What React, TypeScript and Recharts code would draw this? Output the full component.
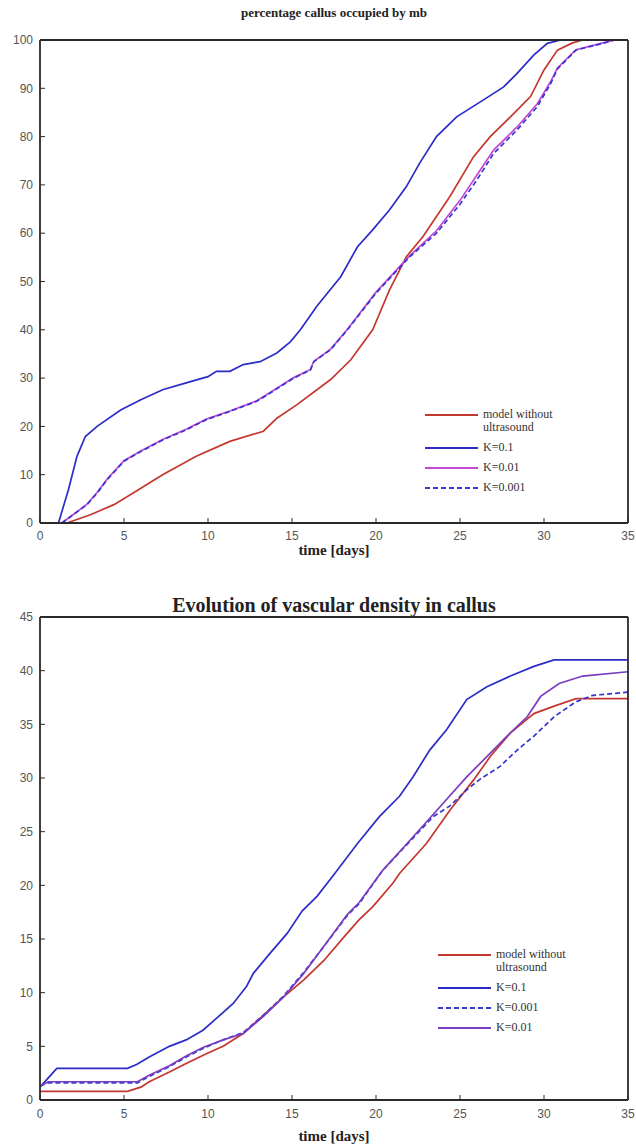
import React from 'react'
import { LineChart, Line, XAxis, YAxis, Legend } from 'recharts'

type Pair = [number, number]

const dayTicks = [0, 5, 10, 15, 20, 25, 30, 35]
const mbTicks = [0, 10, 20, 30, 40, 50, 60, 70, 80, 90, 100]
const vdTicks = [0, 5, 10, 15, 20, 25, 30, 35, 40, 45]

// percentage callus occupied by mb  [day, %]
const mbNoUltrasound: Pair[] = [
  [1.6, 0], [3.0, 1.7], [4.4, 3.8], [5.4, 5.9], [7.3, 10], [9.3, 13.8], [11.3, 16.9], [13.3, 19],
  [14.1, 21.7], [15.3, 24.5], [17.3, 29.7], [18.5, 33.8], [19.8, 40], [20.8, 48.2], [21.8, 55.1],
  [22.8, 59.3], [24.4, 67.6], [25.8, 75.8], [26.8, 80], [28, 84.1], [29.2, 88.3], [30, 93.8],
  [30.8, 97.9], [31.7, 99.4], [32.3, 100], [35, 100],
]
const mbK01: Pair[] = [
  [1.1, 0], [1.7, 7], [2.2, 13.8], [2.7, 17.9], [3.4, 20], [4.8, 23.4], [6, 25.5], [7.3, 27.6],
  [8.7, 29], [10, 30.3], [10.5, 31.4], [11.3, 31.4], [12.1, 32.8], [13.1, 33.4], [14.1, 35.2],
  [14.9, 37.5], [15.5, 40], [16.5, 45], [17.9, 51], [18.9, 57.2], [19.8, 60.7], [20.8, 64.8],
  [21.8, 69.6], [22.6, 74.5], [23.6, 80], [24.8, 84.1], [26.4, 87.6], [27.6, 90.3], [28.4, 93.1],
  [29.4, 96.9], [30.2, 99.3], [31, 100], [35, 100],
]
const mbK001: Pair[] = [
  [1.3, 0], [2.8, 3.9], [3.4, 6.3], [4, 9.1], [5, 12.9], [6, 14.9], [7.3, 17.3], [8.7, 19.4],
  [9.9, 21.5], [11.3, 23.2], [12.9, 25.3], [13.7, 27], [15.1, 30.1], [16.1, 31.8], [16.3, 33.5],
  [17.3, 36], [18.3, 40.1], [20, 47.8], [22, 55.3], [23.6, 60.5], [25, 66.8], [26, 72], [27, 77.2],
  [28.4, 82], [29.6, 86.8], [30.4, 91.4], [30.8, 94.2], [31.9, 98], [33.5, 99.4], [34.2, 100], [35, 100],
]
const mbK0001: Pair[] = [
  [1.3, 0], [2.8, 3.8], [3.4, 6.2], [4, 9], [5, 12.8], [6, 14.8], [7.3, 17.2], [8.7, 19.3],
  [9.9, 21.4], [11.3, 23.1], [12.9, 25.2], [13.7, 26.9], [15.1, 30], [16.1, 31.7], [16.3, 33.4],
  [17.3, 35.9], [18.3, 40], [20, 47.6], [22, 55.1], [23.6, 60], [25, 66], [26, 71], [27, 76.5],
  [28.4, 81.4], [29.6, 86.2], [30.4, 91], [30.8, 94], [31.9, 97.9], [33.5, 99.3], [34.2, 100], [35, 100],
]

// vascular density in callus  [day, density]
const vdNoUltrasound: Pair[] = [
  [0, 0.8], [5.2, 0.8], [6, 1.2], [6.5, 1.7], [7.7, 2.6], [8.7, 3.4], [9.9, 4.3], [10.9, 5],
  [12.1, 6.2], [13.3, 7.9], [14.5, 9.6], [15.7, 11.2], [16.9, 13], [18.1, 15.2], [19, 16.8],
  [19.8, 18], [21, 20.2], [21.4, 21.1], [23, 23.9], [24.4, 27], [25.8, 29.8], [26.8, 32],
  [28, 34.2], [29.4, 36], [30.6, 36.7], [31.9, 37.4], [35, 37.4],
]
const vdK01: Pair[] = [
  [0, 1.2], [1, 2.95], [5.2, 2.95], [5.75, 3.3], [6.5, 4], [7.7, 5], [8.7, 5.6], [9.7, 6.5],
  [10.5, 7.6], [11.5, 9], [12.3, 10.6], [12.7, 11.8], [13.6, 13.5], [14.7, 15.5], [15.6, 17.6],
  [16.5, 19], [17.5, 21], [18.9, 23.9], [20.2, 26.4], [21.4, 28.3], [22.2, 30.1], [23.2, 32.6],
  [24.2, 34.5], [25.4, 37.3], [26.6, 38.5], [28, 39.5], [29.4, 40.4], [30.6, 41], [35, 41],
]
const vdK0001: Pair[] = [
  [0, 1.3], [0.5, 1.6], [5.8, 1.6], [6.5, 2.2], [7.7, 3.1], [8.7, 4], [9.7, 4.8], [10.9, 5.6],
  [12.1, 6.3], [13.3, 7.9], [14.5, 9.7], [15.7, 11.9], [16.7, 13.9], [18.3, 17.2], [19, 18.3],
  [20.4, 21.4], [22.2, 24.4], [23.4, 26.4], [24.4, 27.4], [25.4, 28.9], [26.2, 29.9], [27.4, 31.1],
  [28.4, 32.6], [29.4, 33.9], [30.6, 35.7], [31.9, 37.1], [32.9, 37.7], [35, 38],
]
const vdK001: Pair[] = [
  [0, 1.3], [0.5, 1.7], [5.8, 1.7], [6.5, 2.3], [7.7, 3.2], [8.7, 4.1], [9.7, 4.9], [10.9, 5.6],
  [12.1, 6.2], [13.3, 7.8], [14.5, 9.6], [15.7, 11.8], [16.7, 13.9], [18.3, 17.3], [19, 18.4],
  [20.4, 21.4], [22.2, 24.5], [23.8, 27.3], [25.4, 30.1], [26.6, 32], [27.8, 33.9], [29, 35.7],
  [29.8, 37.6], [30.9, 38.8], [32.3, 39.5], [35, 39.9],
]

const RED = '#c4372e'
const BLUE = '#2c2cc8'
const MAGENTA = '#c447d6'
const PURPLE = '#7a3cc0'
const DASHED_BLUE = '#3636d0'

interface Series {
  name: string
  data: Pair[]
  color: string
  dash?: string
}

const mbSeries: Series[] = [
  { name: 'model without ultrasound', data: mbNoUltrasound, color: RED },
  { name: 'K=0.1', data: mbK01, color: BLUE },
  { name: 'K=0.01', data: mbK001, color: MAGENTA },
  { name: 'K=0.001', data: mbK0001, color: DASHED_BLUE, dash: '5 3' },
]

const vdSeries: Series[] = [
  { name: 'model without ultrasound', data: vdNoUltrasound, color: RED },
  { name: 'K=0.1', data: vdK01, color: BLUE },
  { name: 'K=0.001', data: vdK0001, color: DASHED_BLUE, dash: '5 3' },
  { name: 'K=0.01', data: vdK001, color: PURPLE },
]

const toPoints = (pairs: Pair[]) => pairs.map(([t, v]) => ({ t, v }))

const frame = '#2a2a2a'
const tickStyle = { fill: '#555', fontSize: 12, fontFamily: 'Liberation Sans, Arial, sans-serif' }
const serif = 'Liberation Serif, Times New Roman, serif'

function LegendBox({ payload, order }: any) {
  const items = [...(payload || [])].sort(
    (a: any, b: any) => order.indexOf(a.value) - order.indexOf(b.value)
  )
  return (
    <div style={{ fontFamily: serif, fontSize: 12, color: '#333', lineHeight: '13px' }}>
      {items.map((p: any, i: number) => {
        const dash = p.payload?.strokeDasharray
        return (
          <div key={i} style={{ display: 'flex', alignItems: 'flex-start', marginBottom: 7 }}>
            <svg width={53} height={13} style={{ flex: 'none' }}>
              <line x1={0} x2={53} y1={7} y2={7} stroke={p.color} strokeWidth={2} strokeDasharray={dash} />
            </svg>
            <span style={{ marginLeft: 5, width: 80 }}>{p.value}</span>
          </div>
        )
      })}
    </div>
  )
}

interface PanelProps {
  title: string
  titleSize: number
  series: Series[]
  yMax: number
  yTicks: number[]
  height: number
  topMargin: number
  xAxisHeight: number
  tickGap: number
  labelOffset: number
  titleTop: number
  legendPos: { left: number; top: number }
}

function Panel(props: PanelProps) {
  const { title, titleSize, series, yMax, yTicks, height, topMargin, xAxisHeight, tickGap, labelOffset, titleTop, legendPos } = props
  return (
    <div style={{ position: 'relative', width: 636, height }}>
      <div
        style={{
          position: 'absolute', top: titleTop, left: 40, width: 588, textAlign: 'center',
          fontFamily: serif, fontWeight: 'bold', fontSize: titleSize, color: '#222', lineHeight: `${titleSize + 2}px`,
        }}
      >
        {title}
      </div>
      <LineChart width={636} height={height} margin={{ top: topMargin, right: 7, bottom: 0, left: 0 }}>
        <XAxis
          dataKey="t"
          type="number"
          domain={[0, 35]}
          ticks={dayTicks}
          allowDuplicatedCategory={false}
          height={xAxisHeight}
          tickSize={-5}
          tickMargin={tickGap}
          axisLine={{ stroke: frame, strokeWidth: 1.8 }}
          tickLine={{ stroke: frame }}
          tick={tickStyle}
          label={{
            value: 'time [days]', position: 'insideBottom', offset: labelOffset,
            style: { fontFamily: serif, fontWeight: 'bold', fontSize: 15, fill: '#222' },
          }}
        />
        <XAxis
          xAxisId="top"
          orientation="top"
          type="number"
          domain={[0, 35]}
          ticks={dayTicks}
          height={1}
          tickSize={-5}
          tick={false}
          axisLine={{ stroke: frame, strokeWidth: 1.8 }}
          tickLine={{ stroke: frame }}
        />
        <YAxis
          type="number"
          domain={[0, yMax]}
          ticks={yTicks}
          width={40}
          tickSize={-5}
          tickMargin={12}
          axisLine={{ stroke: frame, strokeWidth: 1.8 }}
          tickLine={{ stroke: frame }}
          tick={tickStyle}
        />
        <YAxis
          yAxisId="right"
          orientation="right"
          type="number"
          domain={[0, yMax]}
          ticks={yTicks}
          width={1}
          tickSize={-5}
          tick={false}
          axisLine={{ stroke: frame, strokeWidth: 1.8 }}
          tickLine={{ stroke: frame }}
        />
        <Legend
          layout="horizontal"
          verticalAlign="middle"
          align="center"
          content={<LegendBox order={series.map(s => s.name)} />}
          wrapperStyle={{ left: legendPos.left, top: legendPos.top, width: 'auto' }}
        />
        {series.map(s => (
          <Line
            key={s.name}
            name={s.name}
            data={toPoints(s.data)}
            dataKey="v"
            type="linear"
            stroke={s.color}
            strokeWidth={1.7}
            strokeDasharray={s.dash}
            dot={false}
            activeDot={false}
            isAnimationActive={false}
          />
        ))}
      </LineChart>
    </div>
  )
}

export default function App() {
  return (
    <div style={{ position: 'absolute', left: 0, top: 0, width: 636, height: 1146, background: '#fff' }}>
      <Panel
        title="percentage callus occupied by mb"
        titleSize={13}
        series={mbSeries}
        yMax={100}
        yTicks={mbTicks}
        height={575}
        topMargin={39}
        xAxisHeight={52}
        tickGap={13}
        labelOffset={20}
        titleTop={5}
        legendPos={{ left: 425, top: 408 }}
      />
      <Panel
        title="Evolution of vascular density in callus"
        titleSize={20}
        series={vdSeries}
        yMax={45}
        yTicks={vdTicks}
        height={571}
        topMargin={41}
        xAxisHeight={46}
        tickGap={14}
        labelOffset={5}
        titleTop={19}
        legendPos={{ left: 438, top: 373 }}
      />
    </div>
  )
}
